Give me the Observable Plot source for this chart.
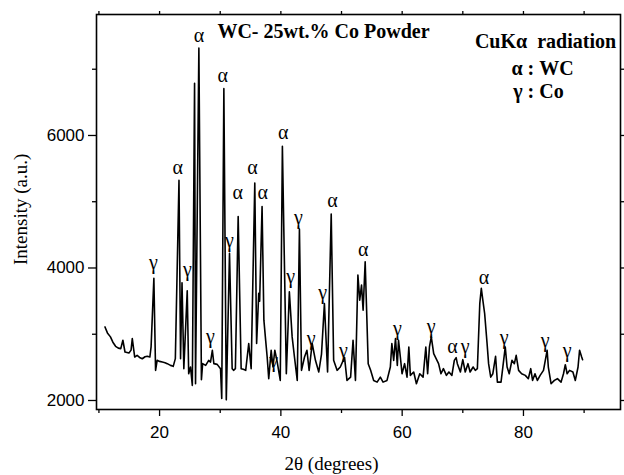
<!DOCTYPE html>
<html>
<head>
<meta charset="utf-8">
<script src="https://cdn.jsdelivr.net/npm/d3@7"></script>
<script src="https://cdn.jsdelivr.net/npm/@observablehq/plot@0.6"></script>
<style>
  html, body { margin: 0; padding: 0; background: #fff; }
  #chart svg { display: block; }
</style>
</head>
<body>
<div id="chart"></div>
<script>
// 2θ (degrees)
const twoTheta = [
  11.0, 11.4, 11.9, 12.3, 12.75, 13.2, 13.6, 13.95, 14.3, 14.95, 15.3, 15.5, 15.9, 16.3, 16.7, 17.15, 17.6, 17.97,
  18.4, 18.6, 19.06, 19.34, 19.6, 20.0, 20.45, 20.9, 21.27, 21.8, 22.25, 22.6, 23.2, 23.46, 23.7, 24.0, 24.56, 24.8,
  25.1, 25.4, 25.77, 25.93, 26.48, 26.9, 27.1, 27.6, 28.1, 28.4, 28.7, 28.95, 29.5, 30.05, 30.25, 30.6, 31.0, 31.53,
  31.97, 32.2, 32.5, 32.96, 33.45, 33.8, 34.2, 34.7, 35.1, 35.7, 36.0, 36.35, 36.5, 36.9, 37.2, 37.5, 37.74, 38.0,
  38.4, 38.7, 39.0, 39.4, 39.9, 40.25, 40.9, 41.4, 41.86, 42.24, 42.7, 43.06, 43.4, 43.9, 44.3, 44.66, 45.16, 45.7,
  46.25, 46.7, 47.18, 47.7, 48.3, 48.7, 49.27, 49.8, 50.5, 50.9, 51.5, 51.9, 52.3, 52.7, 53.0, 53.3, 53.56, 53.9,
  54.4, 54.8, 55.3, 55.87, 56.4, 56.85, 57.5, 58.05, 58.3, 58.6, 58.9, 59.2, 59.4, 59.7, 59.98, 60.4, 60.8, 61.1,
  61.35, 61.9, 62.35, 62.9, 63.45, 63.9, 64.2, 64.5, 64.8, 65.2, 65.6, 66.0, 66.4, 66.8, 67.3, 67.7, 68.2, 68.6,
  68.9, 69.1, 69.6, 70.0, 70.4, 70.85, 71.2, 71.7, 72.06, 72.4, 72.8, 73.05, 73.3, 73.6, 74.0, 74.25, 74.6, 74.95,
  75.4, 75.7, 76.3, 76.6, 77.0, 77.3, 77.65, 78.1, 78.5, 78.8, 79.2, 79.7, 80.3, 80.8, 81.2, 81.5, 81.9, 82.3,
  82.75, 83.3, 83.9, 84.1, 84.55, 85.1, 85.6, 86.2, 86.6, 86.9, 87.2, 87.6, 88.15, 88.55, 89.0, 89.25, 89.6, 89.75
];
// Intensity (a.u.)
const intensity = [
  3110, 3020, 2960, 2880, 2818, 2790, 2783, 2909, 2732, 2717, 2760, 2935, 2656, 2682, 2650, 2630, 2660, 2667,
  2656, 2808, 3844, 2455, 2606, 2590, 2580, 2570, 2556, 2530, 2515, 2632, 5322, 2632, 3777, 2480, 3656, 2404,
  2505, 2227, 6787, 2253, 7318, 2313, 2556, 2530, 2606, 2580, 2758, 2556, 2545, 2480, 2030, 6707, 2010, 4222,
  2480, 2455, 2480, 4777, 2480, 2470, 2455, 2860, 2480, 5283, 2860, 3617, 3500, 4929, 3212, 2900, 2656, 2329,
  2758, 2505, 2758, 2580, 2303, 5838, 2404, 3641, 2960, 2656, 2303, 4586, 2455, 2656, 2758, 2455, 2860, 2606,
  2430, 2700, 3465, 2430, 4813, 2606, 2455, 2505, 2650, 2303, 2353, 2909, 2303, 3894, 3515, 3742, 3364, 4095,
  2556, 2455, 2303, 2277, 2353, 2277, 2303, 2505, 2860, 2606, 2935, 2530, 2909, 2656, 2404, 2556, 2353, 2808,
  2379, 2430, 2253, 2404, 2353, 2808, 2404, 2808, 2960, 2707, 2632, 2556, 2404, 2480, 2379, 2430, 2379, 2606,
  2646, 2556, 2430, 2616, 2430, 2556, 2430, 2505, 2455, 2480, 3465, 3692, 3515, 3313, 2860, 2556, 2353, 2404,
  2667, 2277, 2277, 2505, 2808, 2505, 2404, 2606, 2556, 2682, 2455, 2404, 2379, 2329, 2480, 2303, 2404, 2303,
  2379, 2455, 2758, 2505, 2253, 2303, 2329, 2277, 2404, 2540, 2404, 2455, 2430, 2303, 2505, 2758, 2656, 2616
];

// Phase labels above the peaks
const peakLabelX   = [19.0, 23.0, 24.6, 26.5, 28.4, 30.4, 31.5, 32.9, 35.3, 37.0, 38.8, 40.4, 41.6, 42.9, 45.0, 46.9, 48.5, 50.3, 53.6, 59.2, 64.8, 68.3, 70.4, 73.5, 76.8, 83.6, 87.2];
const peakLabelY   = [4076, 5515, 3970, 7515, 2970, 6909, 4409, 5136, 5515, 5136, 2606, 6045, 3864, 4757, 2939, 3621, 5015, 2757, 4272, 3090, 3121, 2818, 2818, 3848, 2954, 2909, 2757];
const peakLabelSym = ["γ","α","γ","α","γ","α","γ","α","α","α","γ","α","γ","γ","γ","γ","α","γ","α","γ","γ","α","γ","α","γ","γ","γ"];

const xMajorTicks = [20, 40, 60, 80];
const xMinorTicks = [10, 30, 50, 70, 90];
const yMajorTicks = [2000, 4000, 6000];
const yMinorTicks = [3000, 5000, 7000];

const titleText = "WC- 25wt.% Co Powder";
const legendLines = ["CuKα  radiation", "α : WC", "γ : Co"];
const xTitle = "2θ (degrees)";
const yTitle = "Intensity (a.u.)";

const data = twoTheta.map((t, i) => ({t, v: intensity[i]}));
const labels = peakLabelX.map((t, i) => ({t, v: peakLabelY[i], s: peakLabelSym[i]}));

const serif = "'Liberation Serif', 'Times New Roman', serif";
const sans = "'Liberation Sans', Arial, sans-serif";

const chart = Plot.plot({
  width: 624,
  height: 475,
  marginLeft: 96,
  marginRight: 4,
  marginTop: 14,
  marginBottom: 66,
  style: {background: "#fff", color: "#000", fontFamily: sans, fontSize: "17px", overflow: "visible"},
  x: {domain: [9.6, 96.0]},
  y: {domain: [1864, 7826]},
  marks: [
    Plot.axisX(xMajorTicks, {anchor: "bottom", tickSize: 7, tickPadding: 9, label: null, fontSize: 17, fontFamily: sans, strokeWidth: 1.3}),
    Plot.axisX(xMinorTicks, {anchor: "bottom", tickSize: 4, tickFormat: () => "", label: null, strokeWidth: 1.3}),
    Plot.axisX([...xMajorTicks, ...xMinorTicks], {anchor: "top", tickSize: 4, tickFormat: () => "", label: null, strokeWidth: 1.3}),
    Plot.axisY(yMajorTicks, {anchor: "left", tickSize: 8, tickPadding: 4, label: null, tickFormat: d => String(d), fontSize: 17, fontFamily: sans, strokeWidth: 1.3}),
    Plot.axisY(yMinorTicks, {anchor: "left", tickSize: 4, tickFormat: () => "", label: null, strokeWidth: 1.3}),
    Plot.axisY([...yMajorTicks, ...yMinorTicks], {anchor: "right", tickSize: 4, tickFormat: () => "", label: null, strokeWidth: 1.3}),
    Plot.frame({stroke: "#000", strokeWidth: 1.6}),
    Plot.line(data, {x: "t", y: "v", stroke: "#000", strokeWidth: 1.6}),
    Plot.text(labels, {x: "t", y: "v", text: "s", fontSize: 20, fontFamily: serif, fill: "#000"}),
    Plot.text([titleText], {frameAnchor: "top", lineAnchor: "middle", dx: -35, dy: 17, fontSize: 20, fontWeight: "bold", fontFamily: serif, fill: "#000"}),
    Plot.text([legendLines[0]], {frameAnchor: "top-right", lineAnchor: "middle", textAnchor: "middle", dx: -75, dy: 27, fontSize: 20, fontWeight: "bold", fontFamily: serif, fill: "#000"}),
    Plot.text([legendLines[1]], {frameAnchor: "top-right", lineAnchor: "middle", textAnchor: "middle", dx: -78, dy: 54, fontSize: 20, fontWeight: "bold", fontFamily: serif, fill: "#000"}),
    Plot.text([legendLines[2]], {frameAnchor: "top-right", lineAnchor: "middle", textAnchor: "middle", dx: -82, dy: 77, fontSize: 20, fontWeight: "bold", fontFamily: serif, fill: "#000"}),
    Plot.text([xTitle], {frameAnchor: "bottom", lineAnchor: "middle", dx: -27, dy: 54, fontSize: 19, fontFamily: serif, fill: "#000"}),
    Plot.text([yTitle], {frameAnchor: "left", lineAnchor: "middle", rotate: -90, dx: -76, dy: 53, fontSize: 19, fontFamily: serif, fill: "#000"})
  ]
});
// keep consecutive spaces in the legend
chart.querySelectorAll("text").forEach(t => { t.setAttribute("xml:space", "preserve"); t.style.whiteSpace = "pre"; });
document.getElementById("chart").appendChild(chart);
</script>
</body>
</html>
